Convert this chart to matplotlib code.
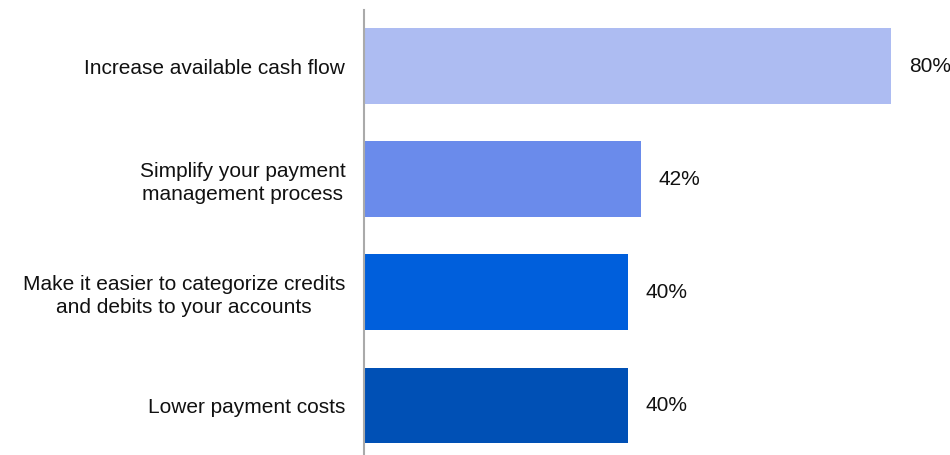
import matplotlib
matplotlib.use("Agg")
import matplotlib.pyplot as plt

plt.rcParams["font.family"] = ["Liberation Sans", "DejaVu Sans"]

# Survey results: share of respondents per benefit
categories = [
    "Increase available cash flow",
    "Simplify your payment\nmanagement process",
    "Make it easier to categorize credits\nand debits to your accounts",
    "Lower payment costs",
]
shares = [80, 42, 40, 40]
colors = ["#ADBCF2", "#6A8BEB", "#005FDC", "#0050B5"]

fig = plt.figure(figsize=(9.5, 4.55), dpi=100)
ax = fig.add_axes([364 / 950, 0.0, 1 - 364 / 950, 1 - 10 / 455])

y = list(range(len(categories)))
ax.barh(y, shares, height=0.67, color=colors, zorder=2)

for yi, v in zip(y, shares):
    ax.annotate(f"{v}%", xy=(v, yi), xytext=(18, 0), textcoords="offset pixels",
                ha="left", va="center", fontsize=15, color="#111111",
                annotation_clip=False)

ax.set_xlim(0, 88.9)
ax.set_ylim(3.437, -0.495)
ax.set_yticks(y)
ax.set_yticklabels(categories, fontsize=15, color="#111111", ha="right",
                   multialignment="center", linespacing=1.25)
ax.tick_params(axis="y", length=0, pad=13.5)
ax.set_xticks([])

for side in ["top", "right", "bottom"]:
    ax.spines[side].set_visible(False)
ax.spines["left"].set_color("#AAAAAA")
ax.spines["left"].set_linewidth(1.5)

fig.savefig("out.png", dpi=100)
